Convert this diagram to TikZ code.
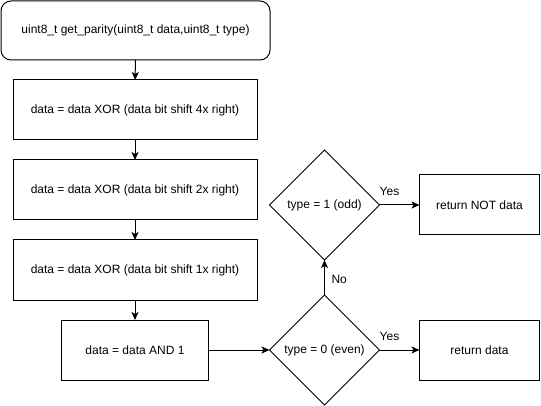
\documentclass[tikz,border=0pt]{standalone}
\usepackage{fontspec}
\setmainfont{Liberation Sans}
\usetikzlibrary{positioning,shapes.geometric,arrows.meta}
\begin{document}
\begin{tikzpicture}[x=1pt, y=1pt, font=\fontsize{12}{14}\selectfont,
    every node/.style={inner sep=0pt, outer sep=0pt},
    stepbox/.style={draw, line width=1pt, minimum width=244pt, minimum height=60pt},
    retbox/.style={draw, line width=1pt, minimum width=120pt, minimum height=60pt},
    test/.style={draw, line width=1pt, diamond, aspect=1, minimum width=110pt, minimum height=110pt},
    flow/.style={line width=1pt, -{Stealth[length=8pt, width=7pt, inset=2pt]}}]
    \useasboundingbox (0,0) rectangle (541,-406);
    \node[draw, line width=1pt, rounded corners=10pt, minimum width=269pt, minimum height=59pt] (start) at (135.5,-30.5) {uint8\_t get\_parity(uint8\_t data,uint8\_t type)};
    \node[stepbox, below=20pt of start, xshift=-0.5pt] (shiftfour) {data = data XOR (data bit shift 4x right)};
    \node[stepbox, below=20pt of shiftfour] (shifttwo) {data = data XOR (data bit shift 2x right)};
    \node[stepbox, below=20pt of shifttwo] (shiftone) {data = data XOR (data bit shift 1x right)};
    \node[draw, line width=1pt, minimum width=147pt, minimum height=60pt, below=20pt of shiftone] (andone) {data = data AND 1};
    \node[test, right=61pt of andone] (even) {type = 0 (even)};
    \node[test, above=35pt of even] (odd) {type = 1 (odd)};
    \node[retbox, right=40pt of even] (retdata) {return data};
    \node[retbox, right=40pt of odd] (retnot) {return NOT data};
    \draw[flow] (start) -- (shiftfour);
    \draw[flow] (shiftfour) -- (shifttwo);
    \draw[flow] (shifttwo) -- (shiftone);
    \draw[flow] (shiftone) -- (andone);
    \draw[flow] (andone) -- (even);
    \draw[flow] (even) -- node[pos=0.25, above=9pt] {Yes} (retdata);
    \draw[flow] (even) -- node[pos=0.45, right=7pt] {No} (odd);
    \draw[flow] (odd) -- node[pos=0.25, above=9pt] {Yes} (retnot);
\end{tikzpicture}
\end{document}
